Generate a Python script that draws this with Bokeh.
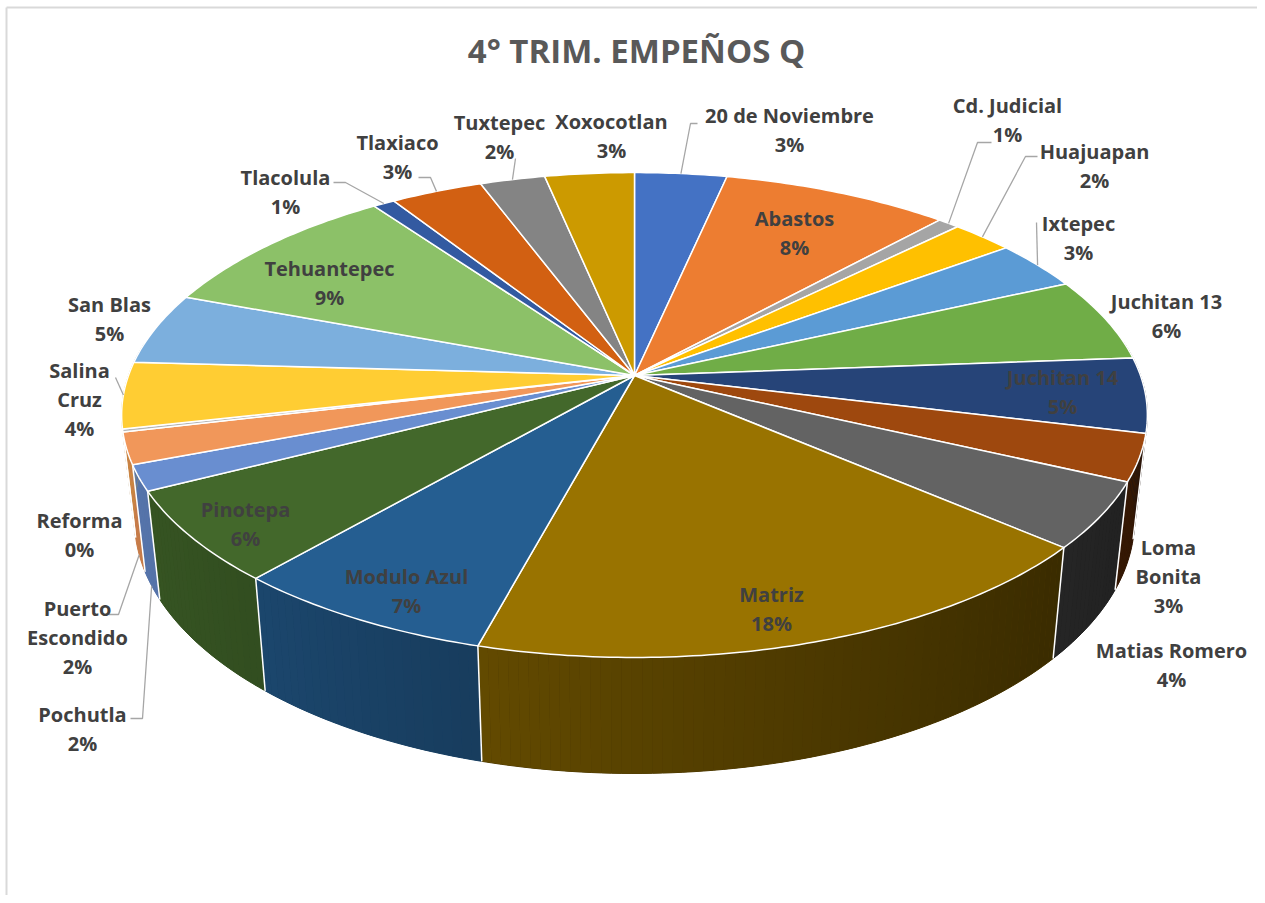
import math
from bokeh.plotting import figure
from bokeh.models import Range1d
from bokeh.core.properties import value
from bokeh.embed import file_html
from bokeh.resources import INLINE

# ---------------- data ----------------
title_text = "4° TRIM. EMPEÑOS Q"
names = ["20 de Noviembre", "Abastos", "Cd. Judicial", "Huajuapan", "Ixtepec",
         "Juchitan 13", "Juchitan 14", "Loma Bonita", "Matias Romero", "Matriz",
         "Modulo Azul", "Pinotepa", "Pochutla", "Puerto Escondido", "Reforma",
         "Salina Cruz", "San Blas", "Tehuantepec", "Tlacolula", "Tlaxiaco",
         "Tuxtepec", "Xoxocotlan"]
values = [3.4, 8.4, 0.8, 2.3, 3.3,
          5.6, 5.0, 3.1, 4.4, 17.9,
          7.2, 6.1, 1.7, 2.1, 0.2,
          4.4, 4.8, 9.4, 0.8, 3.4,
          2.4, 3.3]
colors = ["#4472C4", "#ED7D31", "#A5A5A5", "#FFC000", "#5B9BD5",
          "#70AD47", "#264478", "#9E480E", "#636363", "#997300",
          "#255E91", "#43682B", "#698ED0", "#F1975A", "#B7B7B7",
          "#FFCD33", "#7CAFDD", "#8CC168", "#335AA1", "#D26012",
          "#848484", "#CC9A00"]

# ---------------- layout (picture pixels) ----------------
CX, CY = 634.0, 375.0      # apex of the pie
A, B = 506.0, 236.0        # half axes of the projected top face
K = 0.163                  # perspective strength
T = 103.0                  # thickness
M = 0.975                  # bottom-face shrink

LINE_H = 29
wrap = {"Loma Bonita": ["Loma", "Bonita"],
        "Salina Cruz": ["Salina", "Cruz"],
        "Puerto Escondido": ["Puerto", "Escondido"]}
label_pos = {
    "20 de Noviembre": (789, 115), "Abastos": (794, 218), "Cd. Judicial": (1007, 105),
    "Huajuapan": (1094, 151), "Ixtepec": (1078, 223), "Juchitan 13": (1166, 301),
    "Juchitan 14": (1062, 377), "Loma Bonita": (1168, 547), "Matias Romero": (1171, 650),
    "Matriz": (771, 594), "Modulo Azul": (406, 576), "Pinotepa": (245, 509),
    "Pochutla": (82, 714), "Puerto Escondido": (77, 608), "Reforma": (79, 520),
    "Salina Cruz": (79, 370), "San Blas": (109, 304), "Tehuantepec": (329, 268),
    "Tlacolula": (285, 177), "Tlaxiaco": (397, 142), "Tuxtepec": (499, 122),
    "Xoxocotlan": (611, 121),
}
# leader: start point, horizontal stub, rim level (0 top, 1 bottom)
leaders = {
    "20 de Noviembre": ((697, 123), -7, 0),
    "Cd. Judicial": ((991, 142), -14, 0),
    "Huajuapan": ((1037, 156), -12, 0),
    "Ixtepec": ((1036, 222), 0, 0),
    "Tlacolula": ((333, 182), 12, 0),
    "Tlaxiaco": ((418, 177), 12, 0),
    "Tuxtepec": ((515, 158), 0, 0),
    "Salina Cruz": ((115, 377), 0, 0),
    "Puerto Escondido": ((108, 614), 10, 1),
    "Pochutla": ((130, 718), 12, 1),
}


def proj(alpha, rho=1.0, level=0):
    a = math.radians(alpha)
    c = rho * math.sin(a)
    s = -rho * math.cos(a)
    d = 1 - K * s
    x = CX + A * c / d
    y = CY + B * s / d
    if level:
        x = CX + (x - CX) * M
        y = CY + (y - CY) * M + T / d
    return x, y


def shade(hexc, f):
    h = hexc.lstrip("#")
    r, g, b = (int(h[i:i + 2], 16) for i in (0, 2, 4))
    return "#%02x%02x%02x" % (int(r * f), int(g * f), int(b * f))


def wall_factor(alpha):
    return 0.58 - 0.26 * math.sin(math.radians(alpha))


total = sum(values)
bounds = []
acc = 0.0
for v in values:
    a0 = acc / total * 360.0
    acc += v
    a1 = acc / total * 360.0
    bounds.append((a0, a1))

p = figure(width=1257, height=895, x_range=Range1d(0, 1257), y_range=Range1d(895, 0),
           output_backend="svg", toolbar_location=None, min_border=0)
p.axis.visible = False
p.grid.visible = False
p.outline_line_color = None
p.background_fill_color = "white"

# chart frame (top and left edges)
p.segment(x0=[6, 6], y0=[7, 7], x1=[1257, 6], y1=[7, 895], line_color="#D9D9D9", line_width=2)

# ---- walls: one base polygon per slice, then shaded strips ----
base = []
strips = []
for (a0, a1), col in zip(bounds, colors):
    n = max(1, int(math.ceil((a1 - a0) / 1.0)))
    angs = [a0 + (a1 - a0) * j / n for j in range(n + 1)]
    vis = [a for a in angs if -math.cos(math.radians(a)) > -0.15]
    if len(vis) < 2:
        continue
    top = [proj(a) for a in vis]
    bot = [proj(a, level=1) for a in vis]
    am = 0.5 * (vis[0] + vis[-1])
    base.append((-math.cos(math.radians(am)),
                 [q[0] for q in top] + [q[0] for q in bot[::-1]],
                 [q[1] for q in top] + [q[1] for q in bot[::-1]],
                 shade(col, wall_factor(am))))
    for j in range(len(vis) - 1):
        b0, b1 = vis[j], vis[j + 1]
        bm = 0.5 * (b0 + b1)
        t0, t1 = top[j], top[j + 1]
        u0, u1 = bot[j], bot[j + 1]
        strips.append((-math.cos(math.radians(bm)),
                       [t0[0], t1[0], u1[0], u0[0]], [t0[1], t1[1], u1[1], u0[1]],
                       shade(col, wall_factor(bm))))
base.sort(key=lambda w: w[0])
strips.sort(key=lambda w: w[0])
p.patches(xs=[w[1] for w in base], ys=[w[2] for w in base],
          fill_color=[w[3] for w in base], line_color=[w[3] for w in base], line_width=1)
p.patches(xs=[w[1] for w in strips], ys=[w[2] for w in strips],
          fill_color=[w[3] for w in strips], line_color=None)

# white seams on the walls at slice boundaries
sx0, sy0, sx1, sy1 = [], [], [], []
for a0, a1 in bounds:
    if -math.cos(math.radians(a0)) > -0.12:
        t = proj(a0)
        u = proj(a0, level=1)
        sx0.append(t[0]); sy0.append(t[1]); sx1.append(u[0]); sy1.append(u[1])
p.segment(x0=sx0, y0=sy0, x1=sx1, y1=sy1, line_color="white", line_width=1.5)

# ---- top faces ----
txs, tys = [], []
for a0, a1 in bounds:
    n = max(2, int(math.ceil((a1 - a0) / 0.8)) + 1)
    xs, ys = [CX], [CY]
    for j in range(n):
        x, y = proj(a0 + (a1 - a0) * j / (n - 1))
        xs.append(x); ys.append(y)
    txs.append(xs); tys.append(ys)
p.patches(xs=txs, ys=tys, fill_color=colors, line_color="white", line_width=1.5,
          line_join="round")

# ---- leader lines ----
lx, ly = [], []
for i, nm in enumerate(names):
    if nm not in leaders:
        continue
    (x0, y0), stub, lvl = leaders[nm]
    mid = 0.5 * (bounds[i][0] + bounds[i][1])
    ex, ey = proj(mid, level=lvl)
    if stub:
        lx.append([x0, x0 + stub, ex]); ly.append([y0, y0, ey])
    else:
        lx.append([x0, ex]); ly.append([y0, ey])
p.multi_line(xs=lx, ys=ly, line_color="#A6A6A6", line_width=1.3)

# ---- labels ----
tx, ty, tt = [], [], []
for nm, v in zip(names, values):
    lines = wrap.get(nm, [nm]) + ["%d%%" % int(round(v / total * 100))]
    x0, y0 = label_pos[nm]
    for k, ln in enumerate(lines):
        tx.append(x0); ty.append(y0 + k * LINE_H); tt.append(ln)
p.text(x=tx, y=ty, text=tt, text_font=value("Open Sans"), text_font_style="bold",
       text_font_size="20px", text_color="#404040", text_align="center",
       text_baseline="middle")

# ---- title ----
p.text(x=[636], y=[50], text=[title_text], text_font=value("Open Sans"),
       text_font_style="bold", text_font_size="33px", text_color="#595959",
       text_align="center", text_baseline="middle")

open("out.html", "w").write(file_html(p, INLINE))
